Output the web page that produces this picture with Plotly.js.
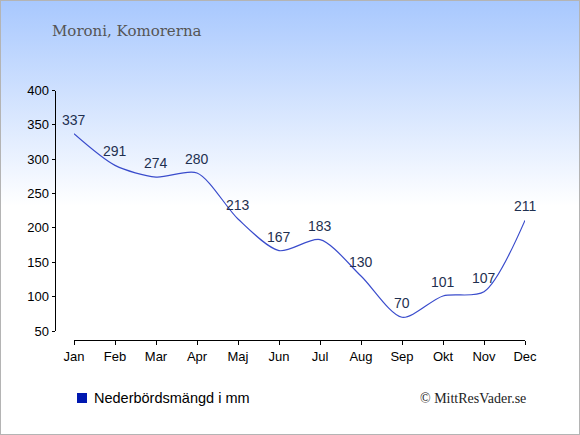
<!DOCTYPE html>
<html><head><meta charset="utf-8">
<script src="https://cdn.plot.ly/plotly-3.0.1.min.js"></script>
<style>
html,body{margin:0;padding:0;}
#wrap{width:578px;height:433px;border:1px solid #b4b4b4;background:linear-gradient(to bottom,#a8c8fe 0px,#ffffff 205px,#ffffff 100%);}
#chart{width:578px;height:433px;}
</style></head>
<body><div id="wrap"><div id="chart"></div></div>
<script>
const months = ['Jan','Feb','Mar','Apr','Maj','Jun','Jul','Aug','Sep','Okt','Nov','Dec'];
const rainfall = [337,291,274,280,213,167,183,130,70,101,107,211];
const yTicks = [50,100,150,200,250,300,350,400];
const W = 578, H = 433;
const px = x => (x-1)/W, py = y => 1-(y-1)/H;

const trace = {
  x: months, y: rainfall, type:'scatter', mode:'lines',
  line:{shape:'spline', smoothing:0.8, color:'#3a4ccc', width:1.2},
  hoverinfo:'none', showlegend:false
};

const valueLabels = months.map((m,i) => ({
  text: String(rainfall[i]), xref:'x', yref:'y', x: m, y: rainfall[i],
  xanchor:'center', yanchor:'middle', yshift:14, showarrow:false,
  font:{family:'Liberation Sans, Arial, sans-serif', size:14, color:'#1f3050'}
}));

const layout = {
  width: W, height: H,
  margin:{l:0,r:0,t:0,b:0},
  paper_bgcolor:'rgba(0,0,0,0)', plot_bgcolor:'rgba(0,0,0,0)',
  showlegend:false,
  xaxis:{
    domain:[px(74), px(525)], range:[0,11], type:'category',
    anchor:'free', position: py(340),
    showline:true, linecolor:'#000', linewidth:1,
    ticks:'outside', ticklen:4, tickcolor:'#000',
    showgrid:false, zeroline:false, fixedrange:true,
    tickfont:{family:'Liberation Sans, Arial, sans-serif', size:13, color:'#000'}
  },
  yaxis:{
    domain:[py(331), py(90.5)], range:[50,400],
    anchor:'free', position: px(54.5),
    tickvals: yTicks, ticktext: yTicks.map(String),
    showline:true, linecolor:'#000', linewidth:1,
    ticks:'outside', ticklen:3, tickcolor:'#000',
    showgrid:false, zeroline:false, fixedrange:true,
    tickfont:{family:'Liberation Sans, Arial, sans-serif', size:13, color:'#000'}
  },
  shapes:[
    {type:'rect', xref:'paper', yref:'paper', x0:px(77), x1:px(87), y0:py(403), y1:py(393),
     fillcolor:'#0018b0', line:{width:0}}
  ],
  annotations:[
    {text:'Moroni, Komorerna', xref:'paper', yref:'paper', x:px(50), y:py(31), xanchor:'left', yanchor:'middle',
     showarrow:false, font:{family:'DejaVu Serif, serif', size:15, color:'#555555'}},
    {text:'Nederbördsmängd i mm', xref:'paper', yref:'paper', x:px(92), y:py(398), xanchor:'left', yanchor:'middle',
     showarrow:false, font:{family:'Liberation Sans, Arial, sans-serif', size:14.5, color:'#000'}},
    {text:'© MittResVader.se', xref:'paper', yref:'paper', x:px(528), y:py(398), xanchor:'right', yanchor:'middle',
     showarrow:false, font:{family:'Liberation Serif, serif', size:14, color:'#222'}}
  ].concat(valueLabels)
};
Plotly.newPlot('chart',[trace],layout,{displayModeBar:false, staticPlot:true});
</script></body></html>
